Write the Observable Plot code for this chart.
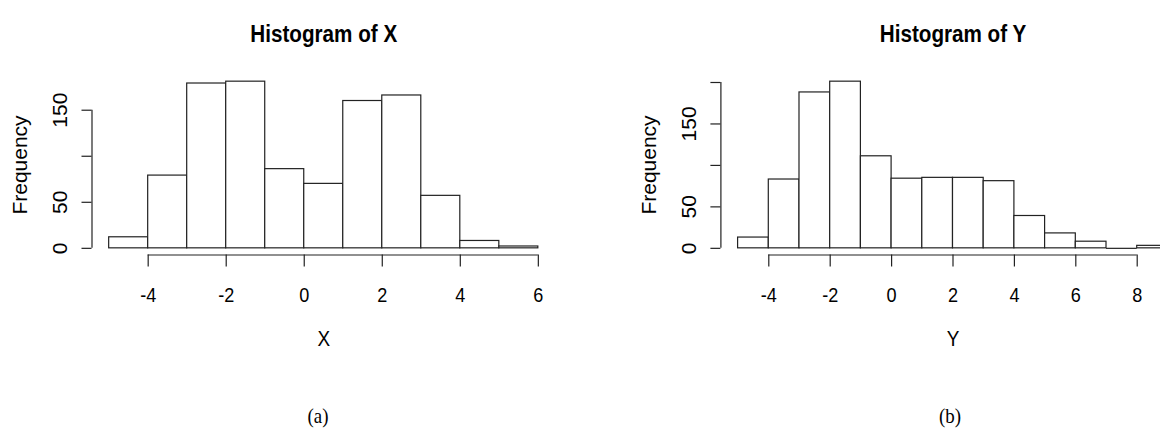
<!DOCTYPE html>
<html><head><meta charset="utf-8">
<script src="https://cdn.jsdelivr.net/npm/d3@7"></script>
<script src="https://cdn.jsdelivr.net/npm/@observablehq/plot@0.6"></script>
<style>
body{margin:0;background:#fff;overflow:hidden}
#wrap{position:relative;width:1160px;height:430px;overflow:hidden;background:#fff}
.panel{position:absolute;top:0;width:580px;height:390px}
.cap{position:absolute;top:404px;line-height:24px;font-family:"Liberation Serif","Times New Roman",serif;font-size:21px;transform:translateX(-50%) scaleX(0.9);color:#000}
</style></head><body>
<div id="wrap">
<div id="pa" class="panel" style="left:0"></div>
<div id="pb" class="panel" style="left:580px"></div>
<div class="cap" style="left:318px">(a)</div>
<div class="cap" style="left:950px">(b)</div>
</div>
<script>
// ---- data ----
const binWidth = 1;
const binStartX = [-5, -4, -3, -2, -1, 0, 1, 2, 3, 4, 5];
const countsX   = [12, 79, 179, 181, 86, 70, 160, 166, 57, 8, 2];
const binStartY = [-5, -4, -3, -2, -1, 0, 1, 2, 3, 4, 5, 6, 7, 8];
const countsY   = [13, 83, 188, 201, 111, 84, 85, 85, 81, 39, 18, 8, 0, 3];
const xTicksX = [-4, -2, 0, 2, 4, 6];
const xTicksY = [-4, -2, 0, 2, 4, 6, 8];
const yTicksX = [0, 50, 100, 150];
const yTicksY = [0, 50, 100, 150, 200];
const yLabelsX = [0, 50, 150];
const yLabelsY = [0, 50, 150];
const titleX = "Histogram of X", titleY = "Histogram of Y";
const xlabX = "X", xlabY = "Y", ylab = "Frequency";

const FONT = "'Liberation Sans',Arial,sans-serif";
const INK = "#222";
const SQUEEZE = 0.86; // reference text is horizontally condensed
const FS = 21;

function hist({starts, counts, xTicks, yTicks, yLabels, title, xlab, marginLeft, marginRight}) {
  const rows = starts.map((s, i) => ({x1: s, x2: s + binWidth, n: counts[i]}));
  const xmin = d3.min(rows, d => d.x1), xmax = d3.max(rows, d => d.x2);
  const ymax = d3.max(counts);
  const px = 0.04 * (xmax - xmin), py = 0.04 * ymax;
  return Plot.plot({
    width: 580, height: 390,
    marginTop: 74.5, marginBottom: 135.5, marginLeft, marginRight,
    x: {domain: [xmin - px, xmax + px]},
    y: {domain: [-py, ymax + py]},
    style: {fontFamily: FONT, fontSize: FS + "px", color: "#000", background: "white"},
    marks: [
      Plot.rectY(rows.filter(d => d.n > 0), {x1: "x1", x2: "x2", y1: 0, y2: "n", fill: "white", stroke: INK, strokeWidth: 1.2, inset: 0}),
      Plot.ruleY(rows.filter(d => d.n === 0), {x1: "x1", x2: "x2", y: "n", stroke: INK, strokeWidth: 1.2}),
      Plot.ruleY([-py], {x1: xTicks[0], x2: xTicks[xTicks.length - 1], stroke: INK, strokeWidth: 1.2}),
      Plot.ruleX([xmin - px], {y1: yTicks[0], y2: yTicks[yTicks.length - 1], stroke: INK, strokeWidth: 1.2}),
      Plot.axisX({ticks: xTicks, tickSize: 12, tickPadding: 20, tickFormat: d => String(d), stroke: INK, strokeWidth: 1.2, label: null, fill: "#000", fontSize: FS}),
      Plot.axisY({ticks: yTicks, tickSize: 10, tickFormat: () => "", stroke: INK, strokeWidth: 1.2, label: null}),
      Plot.text(yLabels, {y: d => d, text: d => String(d), frameAnchor: "left", rotate: -90, dx: -31.5, textAnchor: "middle", fontSize: FS, fill: "#000"}),
      Plot.text([ylab], {frameAnchor: "left", rotate: -90, dx: -71.5, textAnchor: "middle", fontSize: FS, fill: "#000"}),
      Plot.text([title], {frameAnchor: "top", dy: -50, fontSize: 24, fontWeight: "bold", fill: "#000"}),
      Plot.text([xlab], {frameAnchor: "bottom", dy: 91, fontSize: FS + 1, fill: "#000"})
    ]
  });
}

function squeeze(svg) {
  svg.querySelectorAll("text").forEach(t => {
    const tr = t.getAttribute("transform") || "";
    if (tr.includes("rotate")) return;
    const len = t.getComputedTextLength();
    if (len > 0) {
      t.setAttribute("lengthAdjust", "spacingAndGlyphs");
      t.setAttribute("textLength", (len * SQUEEZE).toFixed(2));
    }
  });
}

const a = hist({
  starts: binStartX, counts: countsX, xTicks: xTicksX, yTicks: yTicksX, yLabels: yLabelsX,
  title: titleX, xlab: xlabX, marginLeft: 91.5, marginRight: 25
});
const b = hist({
  starts: binStartY, counts: countsY, xTicks: xTicksY, yTicks: yTicksY, yLabels: yLabelsY,
  title: titleY, xlab: xlabY, marginLeft: 140.4, marginRight: -24.6
});
document.getElementById("pa").append(a);
document.getElementById("pb").append(b);
squeeze(a); squeeze(b);
</script>
</body></html>
